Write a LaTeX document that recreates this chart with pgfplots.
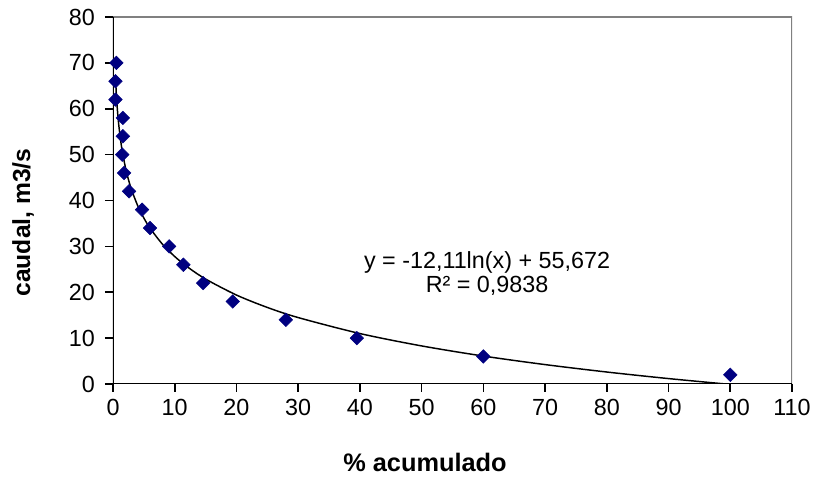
\documentclass[border=0pt]{standalone}
\usepackage{fontspec}
\setmainfont{Liberation Sans}
\usepackage{pgfplots}
\pgfplotsset{compat=1.18}
\definecolor{ptblue}{RGB}{0,0,128}
\definecolor{frame}{RGB}{128,128,128}
\begin{document}
\begin{tikzpicture}
\useasboundingbox (-84.75pt,-69.75pt) rectangle (526.5pt,288pt);
\begin{axis}[
  scale only axis,
  width=509.25pt, height=275.25pt,
  xmin=0, xmax=110, ymin=0, ymax=80,
  xtick={0,10,...,110}, ytick={0,10,...,80},
  axis line style={draw=none},
  tick align=outside,
  major tick length=6pt,
  tick style={black, line width=1.2pt},
  xtick pos=bottom, ytick pos=left,
  /pgf/number format/assume math mode=true,
  tick label style={font=\fontsize{17.5}{20}\selectfont},
  xticklabel style={yshift=-2pt},
  yticklabel style={xshift=-4pt},
  xlabel={\% acumulado},
  ylabel={caudal, m3/s},
  xlabel style={font=\fontsize{19}{22}\selectfont\bfseries, at={(rel axis cs:0.4595,-0.2125)}, anchor=center},
  ylabel style={font=\fontsize{18.5}{22}\selectfont\bfseries, at={(rel axis cs:-0.1325,0.44)}, anchor=center, rotate=0},
  clip=true,
]
% frame
\draw[frame, line width=1.5pt] (rel axis cs:0,1) -- (rel axis cs:1,1) -- (rel axis cs:1,0);
\draw[black, line width=1.5pt] (rel axis cs:0,1) -- (rel axis cs:0,0) -- (rel axis cs:1,0);
% logarithmic trendline
\addplot[black, line width=1.1pt, smooth] coordinates {
(0.4,66.77) (0.6,61.86) (0.8,58.37) (1,55.67) (1.25,52.97) (1.5,50.76) (2,47.28)
(2.5,44.58) (3,42.37) (4,38.88) (5,36.18) (6,33.97) (8,30.49) (10,27.79)
(12,25.58) (15,22.88) (20,19.39) (25,16.69) (30,14.48) (40,11.00) (50,8.30)
(60,6.09) (70,4.23) (80,2.61) (90,1.18) (100.3,-0.13)
};
% data
\addplot[only marks, mark=square*, mark size=3.6pt, mark options={rotate=45, fill=ptblue, draw=ptblue}] coordinates {
(0.55,70) (0.4,66) (0.4,62) (1.6,58) (1.6,54) (1.5,50) (1.8,46) (2.6,42)
(4.7,38) (6.0,34) (9.1,30) (11.4,26) (14.6,22) (19.4,18) (28.0,14)
(39.5,10) (60.0,6) (100,2)
};
\node[align=center, font=\fontsize{17.5}{17.5}\selectfont] at (axis cs:60.6,24.1) {y = -12,11ln(x) + 55,672\\R² = 0,9838};
\end{axis}
\end{tikzpicture}
\end{document}
